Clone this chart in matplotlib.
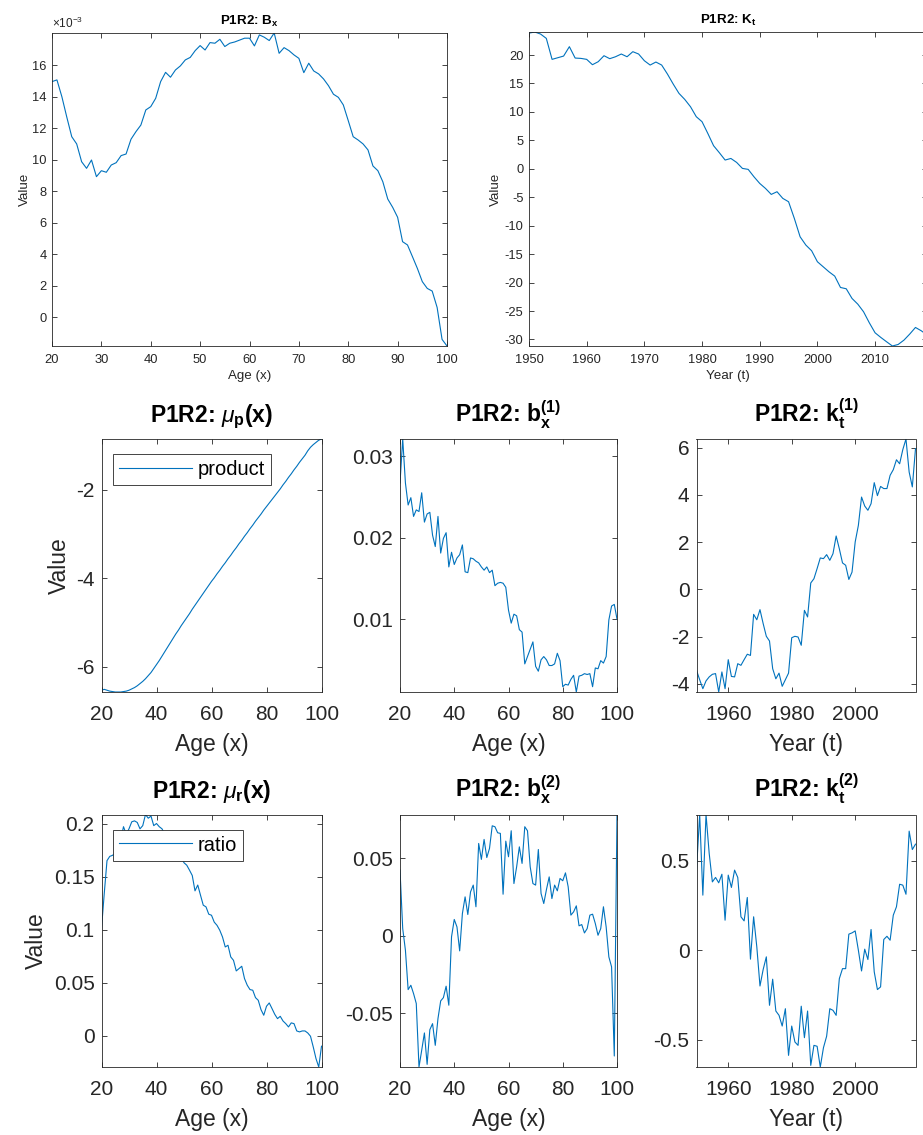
import numpy as np
import matplotlib
matplotlib.use("Agg")
import matplotlib.pyplot as plt

plt.rcParams["font.family"] = ["Liberation Sans", "DejaVu Sans"]
plt.rcParams["mathtext.fontset"] = "custom"
plt.rcParams["mathtext.rm"] = "Liberation Sans"
plt.rcParams["mathtext.it"] = "Liberation Sans:italic"
plt.rcParams["mathtext.bf"] = "Liberation Sans:bold"
plt.rcParams["axes.unicode_minus"] = False

# ---------------------------------------------------------------- data
ages = np.arange(20, 101)
years = np.arange(1950, 2020)

# B_x in units of 1e-3
bx_e3 = [14.96, 15.07, 14.00, 12.70, 11.46, 11.00, 9.87, 9.45, 9.98, 8.92,
         9.30, 9.20, 9.66, 9.81, 10.26, 10.36, 11.30, 11.78, 12.20, 13.16,
         13.37, 13.90, 14.96, 15.55, 15.24, 15.70, 15.96, 16.34, 16.50, 16.93,
         17.25, 16.97, 17.44, 17.40, 17.65, 17.19, 17.40, 17.48, 17.60, 17.72,
         17.72, 17.23, 17.93, 17.78, 17.57, 18.05, 16.76, 17.12, 16.93, 16.66,
         16.44, 15.53, 16.13, 15.64, 15.45, 15.13, 14.70, 14.16, 13.96, 13.48,
         12.48, 11.46, 11.25, 11.00, 10.62, 9.60, 9.30, 8.60, 7.50, 6.97,
         6.34, 4.79, 4.58, 3.84, 3.09, 2.25, 1.82, 1.65, 0.61, -1.42,
         -1.84]
bx_scale = 1e-3

kt = [23.85, 24.05, 23.69, 22.93, 19.24, 19.53, 19.82, 21.47, 19.47, 19.41,
      19.24, 18.30, 18.83, 19.88, 19.36, 19.70, 20.18, 19.70, 20.59, 20.18,
      19.00, 18.24, 18.77, 18.24, 16.66, 14.90, 13.26, 12.20, 10.91, 9.16,
      8.28, 6.22, 4.06, 2.83, 1.54, 1.82, 1.12, 0.07, -0.10, -1.40,
      -2.57, -3.45, -4.50, -4.03, -5.20, -5.79, -8.72, -11.95, -13.41, -14.41,
      -16.34, -17.22, -18.10, -18.86, -20.86, -21.09, -22.79, -23.79, -25.13, -27.07,
      -28.83, -29.65, -30.41, -31.15, -30.88, -30.12, -29.06, -27.89, -28.47, -29.20]

mu_p = [-6.53, -6.51, -6.53, -6.55, -6.56, -6.57, -6.57, -6.57, -6.56, -6.55,
        -6.53, -6.50, -6.47, -6.43, -6.38, -6.33, -6.27, -6.20, -6.13, -6.04,
        -5.95, -5.86, -5.76, -5.66, -5.56, -5.46, -5.36, -5.26, -5.17, -5.07,
        -4.98, -4.89, -4.80, -4.70, -4.61, -4.52, -4.43, -4.34, -4.25, -4.16,
        -4.07, -3.99, -3.90, -3.82, -3.73, -3.65, -3.56, -3.48, -3.39, -3.31,
        -3.22, -3.14, -3.05, -2.97, -2.88, -2.80, -2.71, -2.63, -2.55, -2.46,
        -2.38, -2.30, -2.22, -2.14, -2.06, -1.98, -1.89, -1.81, -1.72, -1.64,
        -1.55, -1.47, -1.38, -1.30, -1.22, -1.12, -1.04, -0.98, -0.93, -0.88,
        -0.853]

b1 = [0.0267, 0.0321, 0.0267, 0.0240, 0.0249, 0.0226, 0.0234, 0.0232, 0.0255, 0.0219,
      0.0229, 0.0231, 0.0203, 0.0189, 0.0226, 0.0181, 0.0199, 0.0206, 0.0164, 0.0182,
      0.0167, 0.0175, 0.0179, 0.0191, 0.0158, 0.0157, 0.0175, 0.0174, 0.0171, 0.0169,
      0.0164, 0.0160, 0.0164, 0.0157, 0.0160, 0.0141, 0.0144, 0.0145, 0.0144, 0.0139,
      0.0111, 0.0095, 0.0106, 0.0104, 0.0087, 0.0084, 0.0045, 0.0054, 0.0063, 0.0072,
      0.0042, 0.0036, 0.0050, 0.0054, 0.0050, 0.0043, 0.0043, 0.0045, 0.0058, 0.0049,
      0.0017, 0.0020, 0.0019, 0.0026, 0.0031, 0.00105, 0.0030, 0.0031, 0.0033, 0.0032,
      0.0033, 0.0017, 0.0040, 0.0039, 0.0049, 0.0046, 0.0054, 0.0099, 0.0116, 0.0118,
      0.0100]

k1 = [-3.43, -3.83, -4.21, -3.88, -3.71, -3.60, -3.57, -4.35, -3.50, -4.21,
      -2.98, -3.69, -3.71, -3.15, -3.22, -2.98, -2.75, -2.80, -1.06, -1.29,
      -0.86, -1.45, -1.99, -2.19, -3.36, -3.79, -3.55, -4.11, -3.83, -3.55,
      -2.05, -1.99, -2.02, -2.37, -0.89, -1.17, 0.27, 0.45, 0.88, 1.33,
      1.30, 1.47, 1.23, 1.51, 2.26, 1.72, 1.12, 1.02, 0.42, 0.73,
      2.01, 2.71, 3.91, 3.53, 3.35, 3.63, 4.52, 3.97, 4.36, 4.27,
      4.27, 4.83, 5.07, 5.49, 5.32, 5.92, 6.37, 4.97, 4.34, 5.96]

mu_r = [0.101, 0.134, 0.165, 0.169, 0.170, 0.172, 0.178, 0.185, 0.197, 0.190,
        0.195, 0.2016, 0.2025, 0.201, 0.195, 0.198, 0.2085, 0.205, 0.207, 0.198,
        0.200, 0.197, 0.195, 0.190, 0.186, 0.182, 0.178, 0.175, 0.172, 0.168,
        0.163, 0.1607, 0.156, 0.151, 0.1365, 0.142, 0.1324, 0.123, 0.1214, 0.1145,
        0.1135, 0.107, 0.104, 0.0994, 0.093, 0.0836, 0.0852, 0.0742, 0.071, 0.061,
        0.0632, 0.0654, 0.0538, 0.0475, 0.0434, 0.0428, 0.0358, 0.0333, 0.0245, 0.0192,
        0.0277, 0.0308, 0.0255, 0.0201, 0.0160, 0.0182, 0.0138, 0.0113, 0.0082, 0.0120,
        0.0113, 0.0044, 0.0035, 0.0044, 0.0044, 0.0025, -0.0006, -0.0107, -0.0217, -0.0296,
        -0.0100]

b2 = [0.0425, 0.0047, -0.0093, -0.0347, -0.0319, -0.0373, -0.0437, -0.0847, -0.0739, -0.0627,
      -0.0830, -0.0606, -0.0567, -0.0707, -0.0534, -0.0420, -0.0399, -0.0325, -0.0448, -0.0006,
      0.0106, 0.0058, -0.0097, 0.0144, 0.0252, 0.0138, 0.0284, 0.0328, 0.0188, 0.0597,
      0.0494, 0.0623, 0.0506, 0.0565, 0.0711, 0.0705, 0.0666, 0.0662, 0.0269, 0.0612,
      0.0511, 0.0679, 0.0338, 0.0446, 0.0575, 0.0468, 0.0705, 0.0679, 0.0446, 0.0338,
      0.0328, 0.0558, 0.0274, 0.0209, 0.0300, 0.0381, 0.0241, 0.0328, 0.0291, 0.0371,
      0.0356, 0.0407, 0.0317, 0.0134, 0.0155, 0.0194, 0.0065, 0.0073, 0.0019, 0.0047,
      0.0134, 0.0140, 0.0080, 0.0004, 0.0047, 0.0188, 0.0058, -0.0136, -0.0200, -0.0776,
      0.0784]

k2 = [0.448, 0.759, 0.308, 0.759, 0.541, 0.382, 0.407, 0.377, 0.425, 0.168,
      0.420, 0.351, 0.448, 0.407, 0.187, 0.164, 0.295, -0.050, 0.187, 0.019,
      -0.200, -0.108, -0.037, -0.308, -0.162, -0.340, -0.364, -0.424, -0.327, -0.588,
      -0.424, -0.513, -0.532, -0.313, -0.489, -0.340, -0.644, -0.532, -0.537, -0.653,
      -0.545, -0.481, -0.327, -0.336, -0.364, -0.159, -0.103, -0.103, 0.090, 0.097,
      0.108, 0.000, -0.116, 0.006, -0.052, 0.116, -0.121, -0.220, -0.205, 0.060,
      0.078, 0.056, 0.196, 0.243, 0.369, 0.364, 0.313, 0.666, 0.563, 0.593]

# ---------------------------------------------------------------- style
LINE = "#0072BD"
AXC = "#262626"
W, H = 923, 1135


def box(l, t, r, b):
    return [l / W, 1 - b / H, (r - l) / W, (b - t) / H]


def style(ax, fs, ticklen, xpad, ypad):
    for s in ax.spines.values():
        s.set_color(AXC)
        s.set_linewidth(0.6)
    ax.tick_params(direction="in", top=True, right=True, length=ticklen,
                   width=0.6, color=AXC, labelcolor=AXC, labelsize=fs)
    ax.tick_params(axis="x", pad=xpad)
    ax.tick_params(axis="y", pad=ypad)


def draw(ax, x, y, xt, yt, ytl=None, xlab="", ylab="", title="",
         fs=15, ticklen=3.5, tpad=12, xpad=9.5, ypad=5, xlpad=6, ylpad=4,
         lfs=None):
    y = np.asarray(y)
    ax.plot(x, y, color=LINE, lw=0.8)
    ax.set_xlim(x[0], x[-1])
    ax.set_ylim(y.min(), y.max())
    ax.set_xticks(xt)
    ax.set_yticks(yt)
    if ytl is not None:
        ax.set_yticklabels(ytl)
    style(ax, fs, ticklen, xpad, ypad)
    lfs = lfs or fs * 1.1
    ax.set_xlabel(xlab, fontsize=lfs, color=AXC, labelpad=xlpad)
    if ylab:
        ax.set_ylabel(ylab, fontsize=lfs, color=AXC, labelpad=ylpad)
    ax.set_title(title, fontsize=lfs, fontweight="bold", pad=tpad)


def add_legend(ax, label, h):
    ax.lines[0].set_label(label)
    leg = ax.legend(loc="upper left", bbox_to_anchor=(11.5 / 220, 1 - 15 / h),
                    borderaxespad=0, fontsize=14.5, fancybox=False,
                    framealpha=1, edgecolor=AXC, handlelength=3.6,
                    handletextpad=0.3, borderpad=0.3)
    leg.get_frame().set_linewidth(0.6)


fig = plt.figure(figsize=(W / 100, H / 100), dpi=100)

# top row
ax = fig.add_axes(box(52, 33, 447, 346))
draw(ax, ages, np.asarray(bx_e3) * bx_scale, np.arange(20, 101, 10),
     np.arange(0, 17, 2) * bx_scale, [str(v) for v in range(0, 17, 2)],
     xlab="Age (x)", ylab="Value", title=r"P1R2: $\mathbf{B}_\mathbf{x}$",
     fs=9.3, ticklen=3.6, tpad=6, xpad=5.5, ypad=4, xlpad=3, ylpad=1,
     lfs=9.6)
ax.text(0, 1.005, r"$\times$10$^{-3}$", transform=ax.transAxes, fontsize=8.5,
        color=AXC, ha="left", va="bottom")

ax = fig.add_axes(box(529, 32, 927, 346))
draw(ax, years, kt, np.arange(1950, 2011, 10), np.arange(-30, 21, 5),
     xlab="Year (t)", ylab="Value", title=r"P1R2: $\mathbf{K}_\mathbf{t}$",
     fs=9.3, ticklen=3.6, tpad=6, xpad=5.5, ypad=4, xlpad=3, ylpad=2,
     lfs=9.6)

cols = [(101.5, 321.5), (400, 617), (696.5, 915.5)]
r1 = (439, 692)
r2 = (814.5, 1067)

ax = fig.add_axes(box(cols[0][0], r1[0], cols[0][1], r1[1]))
draw(ax, ages, mu_p, [20, 40, 60, 80, 100], [-6, -4, -2],
     xlab="Age (x)", ylab="Value", title=r"P1R2: $\mu_\mathbf{p}$(x)")
add_legend(ax, "product", 253)

ax = fig.add_axes(box(cols[1][0], r1[0], cols[1][1], r1[1]))
draw(ax, ages, b1, [20, 40, 60, 80, 100], [0.01, 0.02, 0.03],
     ["0.01", "0.02", "0.03"], xlab="Age (x)",
     title=r"P1R2: $\mathbf{b}_\mathbf{x}^\mathbf{(1)}$")

ax = fig.add_axes(box(cols[2][0], r1[0], cols[2][1], r1[1]))
draw(ax, years, k1, [1960, 1980, 2000], [-4, -2, 0, 2, 4, 6],
     xlab="Year (t)", title=r"P1R2: $\mathbf{k}_\mathbf{t}^\mathbf{(1)}$")

ax = fig.add_axes(box(cols[0][0], r2[0], cols[0][1], r2[1]))
draw(ax, ages, mu_r, [20, 40, 60, 80, 100], [0, 0.05, 0.1, 0.15, 0.2],
     ["0", "0.05", "0.1", "0.15", "0.2"],
     xlab="Age (x)", ylab="Value", title=r"P1R2: $\mu_\mathbf{r}$(x)")
add_legend(ax, "ratio", 252.5)

ax = fig.add_axes(box(cols[1][0], r2[0], cols[1][1], r2[1]))
draw(ax, ages, b2, [20, 40, 60, 80, 100], [-0.05, 0, 0.05],
     ["-0.05", "0", "0.05"], xlab="Age (x)",
     title=r"P1R2: $\mathbf{b}_\mathbf{x}^\mathbf{(2)}$")

ax = fig.add_axes(box(cols[2][0], r2[0], cols[2][1], r2[1]))
draw(ax, years, k2, [1960, 1980, 2000], [-0.5, 0, 0.5], ["-0.5", "0", "0.5"],
     xlab="Year (t)", title=r"P1R2: $\mathbf{k}_\mathbf{t}^\mathbf{(2)}$")

fig.savefig("out.png", dpi=100)
